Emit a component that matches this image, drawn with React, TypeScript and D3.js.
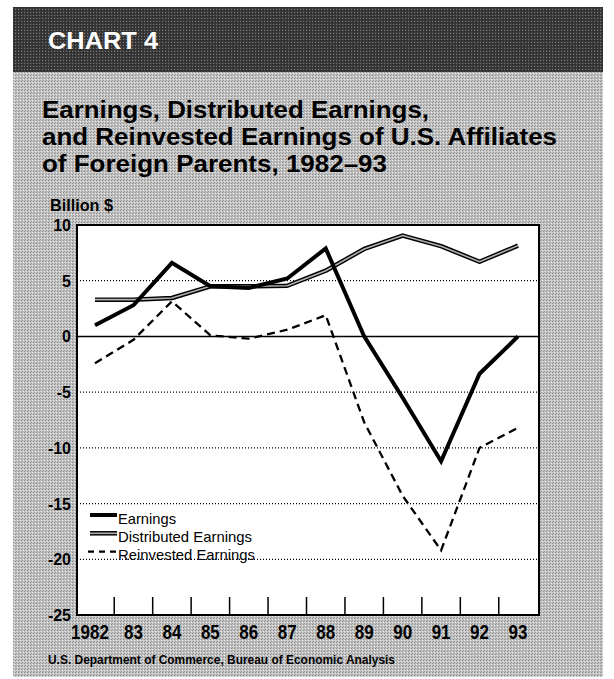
import React, { useRef, useEffect } from "react";
import * as d3 from "d3";

const years = ["1982", "83", "84", "85", "86", "87", "88", "89", "90", "91", "92", "93"];
const earnings = [1.0, 2.8, 6.6, 4.5, 4.35, 5.2, 7.9, 0.0, -5.5, -11.2, -3.35, 0.0];
const distributed = [3.3, 3.3, 3.45, 4.5, 4.5, 4.55, 5.9, 7.85, 9.05, 8.1, 6.7, 8.15];
const reinvested = [-2.4, -0.3, 3.15, 0.1, -0.2, 0.6, 1.9, -7.7, -14.3, -19.2, -10.0, -8.2];
const yTicks = [10, 5, 0, -5, -10, -15, -20, -25];
const gridValues = [5, -5, -10, -15, -20];
const titleLines = [
  "Earnings, Distributed Earnings,",
  "and Reinvested Earnings of U.S. Affiliates",
  "of Foreign Parents, 1982\u201393",
];
const legendLabels = ["Earnings", "Distributed Earnings", "Reinvested Earnings"];

const FONT = "'Liberation Sans', Arial, sans-serif";

const App = () => {
  const ref = useRef<SVGSVGElement>(null);

  useEffect(() => {
    const svg = d3.select(ref.current);
    svg.selectAll("*").remove();

    const left = 77, right = 539, top = 225, bottom = 615;

    const x = d3.scalePoint().domain(years).range([95, 518]);
    const y = d3.scaleLinear().domain([-25, 10]).range([bottom, top]);

    // textured backgrounds
    const defs = svg.append("defs");
    const light = defs.append("pattern").attr("id", "lightTex")
      .attr("width", 3).attr("height", 3).attr("patternUnits", "userSpaceOnUse");
    light.append("rect").attr("width", 3).attr("height", 3).attr("fill", "#c4c4c4");
    light.append("rect").attr("width", 1).attr("height", 1).attr("fill", "#8a8a8a");
    light.append("rect").attr("x", 2).attr("y", 1).attr("width", 1).attr("height", 1).attr("fill", "#e6e6e6");
    light.append("rect").attr("x", 1).attr("y", 2).attr("width", 1).attr("height", 1).attr("fill", "#9a9a9a");
    const dark = defs.append("pattern").attr("id", "darkTex")
      .attr("width", 3).attr("height", 3).attr("patternUnits", "userSpaceOnUse");
    dark.append("rect").attr("width", 3).attr("height", 3).attr("fill", "#3a3a3a");
    dark.append("rect").attr("width", 1).attr("height", 1).attr("fill", "#7a7a7a");
    dark.append("rect").attr("x", 2).attr("y", 1).attr("width", 1).attr("height", 1).attr("fill", "#222");

    svg.append("rect").attr("x", 13).attr("y", 7).attr("width", 590).attr("height", 670)
      .attr("fill", "url(#lightTex)");
    svg.append("rect").attr("x", 13).attr("y", 7).attr("width", 590).attr("height", 65)
      .attr("fill", "url(#darkTex)");

    svg.append("text").attr("x", 48).attr("y", 49).text("CHART 4")
      .attr("font-family", FONT).attr("font-weight", "bold").attr("font-size", 23)
      .attr("fill", "#fff").attr("textLength", 110).attr("lengthAdjust", "spacingAndGlyphs");

    const titleWidths = [387, 515, 345];
    svg.selectAll(".title").data(titleLines).join("text").attr("class", "title")
      .attr("x", 42).attr("y", (d, i) => 118 + i * 27)
      .attr("font-family", FONT).attr("font-weight", "bold").attr("font-size", 24)
      .attr("fill", "#000")
      .attr("textLength", (d, i) => titleWidths[i]).attr("lengthAdjust", "spacingAndGlyphs")
      .text((d) => d);

    svg.append("text").attr("x", 50).attr("y", 211).text("Billion $")
      .attr("font-family", FONT).attr("font-weight", "bold").attr("font-size", 17)
      .attr("textLength", 63).attr("lengthAdjust", "spacingAndGlyphs");

    // plot area
    svg.append("rect").attr("x", left).attr("y", top).attr("width", right - left).attr("height", bottom - top)
      .attr("fill", "#fff");

    svg.append("g").selectAll("line").data(gridValues).join("line")
      .attr("x1", left).attr("x2", right).attr("y1", (d) => y(d)).attr("y2", (d) => y(d))
      .attr("stroke", "#000").attr("stroke-width", 1.2).attr("stroke-dasharray", "1,2");

    svg.append("line").attr("x1", left).attr("x2", right).attr("y1", y(0)).attr("y2", y(0))
      .attr("stroke", "#000").attr("stroke-width", 1.6);

    // ticks between years
    const mids = years.slice(1).map((yr, i) => ((x(years[i]) as number) + (x(yr) as number)) / 2);
    svg.append("g").selectAll("line").data(mids).join("line")
      .attr("x1", (d) => d).attr("x2", (d) => d).attr("y1", bottom).attr("y2", bottom - 18)
      .attr("stroke", "#000").attr("stroke-width", 1.5);

    const line = d3.line<number>().x((d, i) => x(years[i]) as number).y((d) => y(d));

    svg.append("path").attr("d", line(distributed)).attr("fill", "none")
      .attr("stroke", "#000").attr("stroke-width", 4.5).attr("stroke-linejoin", "round");
    svg.append("path").attr("d", line(distributed)).attr("fill", "none")
      .attr("stroke", "#b0b0b0").attr("stroke-width", 1.6).attr("stroke-linejoin", "round");
    svg.append("path").attr("d", line(reinvested)).attr("fill", "none")
      .attr("stroke", "#000").attr("stroke-width", 2.3).attr("stroke-dasharray", "8,5");
    svg.append("path").attr("d", line(earnings)).attr("fill", "none")
      .attr("stroke", "#000").attr("stroke-width", 4).attr("stroke-linejoin", "miter");

    svg.append("rect").attr("x", left).attr("y", top).attr("width", right - left).attr("height", bottom - top)
      .attr("fill", "none").attr("stroke", "#000").attr("stroke-width", 2);

    // y labels
    svg.append("g").selectAll("text").data(yTicks).join("text")
      .attr("x", 71).attr("y", (d) => y(d) + 6).attr("text-anchor", "end")
      .attr("font-family", FONT).attr("font-weight", "bold").attr("font-size", 16)
      .text((d) => d);

    // x labels, condensed
    svg.append("g").selectAll("text").data(years).join("text")
      .attr("transform", (d, i) => `translate(${(x(d) as number) - (i === 0 ? 5 : 0)},639) scale(0.85,1)`)
      .attr("text-anchor", "middle")
      .attr("font-family", FONT).attr("font-weight", "bold").attr("font-size", 20)
      .text((d) => d);

    // legend
    const legendWidths = [58, 134, 137];
    const lg = svg.append("g");
    legendLabels.forEach((label, i) => {
      const ly = 515 + i * 18.3;
      if (i === 0) {
        lg.append("line").attr("x1", 90).attr("x2", 117).attr("y1", ly).attr("y2", ly)
          .attr("stroke", "#000").attr("stroke-width", 4);
      } else if (i === 1) {
        lg.append("line").attr("x1", 90).attr("x2", 117).attr("y1", ly).attr("y2", ly)
          .attr("stroke", "#000").attr("stroke-width", 4.5);
        lg.append("line").attr("x1", 90).attr("x2", 117).attr("y1", ly).attr("y2", ly)
          .attr("stroke", "#b0b0b0").attr("stroke-width", 1.6);
      } else {
        lg.append("line").attr("x1", 88).attr("x2", 117).attr("y1", ly).attr("y2", ly)
          .attr("stroke", "#000").attr("stroke-width", 2.3).attr("stroke-dasharray", "6,5");
      }
      lg.append("text").attr("x", 118).attr("y", ly + 8.5).text(label)
        .attr("font-family", FONT).attr("font-size", 15)
        .attr("textLength", legendWidths[i]).attr("lengthAdjust", "spacingAndGlyphs");
    });

    svg.append("text").attr("x", 48).attr("y", 664)
      .text("U.S. Department of Commerce, Bureau of Economic Analysis")
      .attr("font-family", FONT).attr("font-weight", "bold").attr("font-size", 13)
      .attr("textLength", 347).attr("lengthAdjust", "spacingAndGlyphs");
  }, []);

  return (
    <svg
      ref={ref}
      width={614}
      height={679}
      style={{ position: "absolute", left: 0, top: 0, background: "#fff" }}
    />
  );
};

export default App;
